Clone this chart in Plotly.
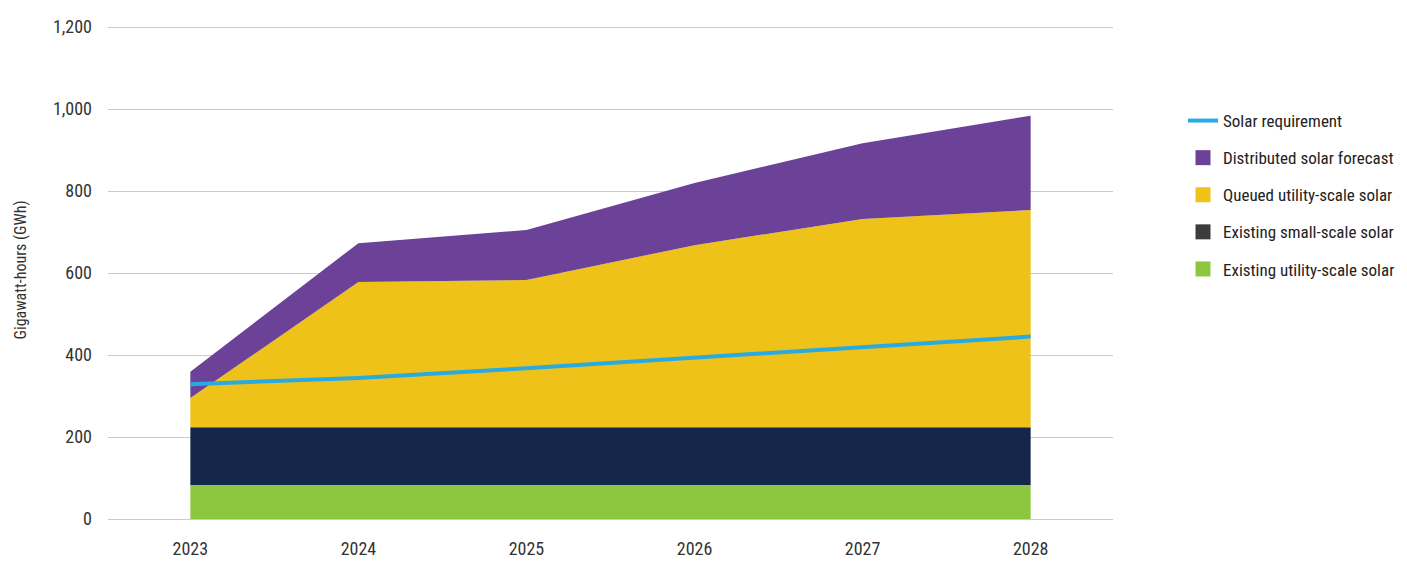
import plotly.graph_objects as go

years = ["2023", "2024", "2025", "2026", "2027", "2028"]
existing_utility = [83, 83, 83, 83, 83, 83]
existing_small = [141, 141, 141, 141, 141, 141]
queued_utility = [71, 354, 359, 444, 508, 530]
distributed = [64, 95, 122, 152, 185, 230]
solar_requirement = [329, 344, 368, 393, 419, 445]

x = list(range(len(years)))
FONT = "Roboto Condensed, Liberation Sans Narrow, sans-serif"

c_green = "#8DC63F"
c_navy = "#14274A"
c_yellow = "#EFC219"
c_purple = "#6C4298"
c_blue = "#29ABE2"
c_legend_dark = "#3C3C3C"

fig = go.Figure()

areas = [
    ("Existing utility-scale solar", existing_utility, c_green),
    ("Existing small-scale solar", existing_small, c_navy),
    ("Queued utility-scale solar", queued_utility, c_yellow),
    ("Distributed solar forecast", distributed, c_purple),
]
for name, vals, col in areas:
    fig.add_trace(go.Scatter(
        x=x, y=vals, name=name, stackgroup="s", mode="lines",
        line=dict(width=0, color=col), fillcolor=col, showlegend=False,
        hoverinfo="skip",
    ))

fig.add_trace(go.Scatter(
    x=x, y=solar_requirement, name="Solar requirement", mode="lines",
    line=dict(color=c_blue, width=4), showlegend=True, legendrank=1,
    legendgroup="g1",
))

legend_items = [
    ("Distributed solar forecast", c_purple, 2),
    ("Queued utility-scale solar", c_yellow, 3),
    ("Existing small-scale solar", c_legend_dark, 4),
    ("Existing utility-scale solar", c_green, 5),
]
for name, col, rank in legend_items:
    fig.add_trace(go.Scatter(
        x=[None], y=[None], name=name, mode="markers",
        marker=dict(symbol="square", size=15, color=col),
        showlegend=True, legendrank=rank, legendgroup="g%d" % rank,
    ))

W, H = 1399, 553
L, T, B = 100, 13, 42
R = W - 1105
plot_h = H - T - B

legend_left = 1175
legend_top = 95

fig.update_layout(
    width=W, height=H,
    margin=dict(l=L, r=R, t=T, b=B, autoexpand=False),
    paper_bgcolor="white", plot_bgcolor="white",
    font=dict(family=FONT, size=18, color="#333333"),
    showlegend=True,
    legend=dict(
        x=(legend_left - L) / (W - L - R), y=(H - B - legend_top) / plot_h,
        xanchor="left", yanchor="top",
        font=dict(family=FONT, size=17, color="#222222"),
        tracegroupgap=12, itemwidth=30, traceorder="grouped",
        bgcolor="rgba(0,0,0,0)",
    ),
    xaxis=dict(
        tickmode="array", tickvals=x, ticktext=years,
        range=[-0.49, 5.49], showgrid=False, zeroline=False,
        showline=False, ticks="", ticklabelstandoff=17, automargin=False,
        tickfont=dict(family=FONT, size=18, color="#333333"),
    ),
    yaxis=dict(
        range=[0, 1215], tickvals=[0, 200, 400, 600, 800, 1000, 1200],
        ticktext=["0", "200", "400", "600", "800", "1,000", "1,200"],
        showgrid=True, gridcolor="#CBC9D6", gridwidth=1,
        zeroline=True, zerolinecolor="#CBC9D6", zerolinewidth=1,
        showline=False, ticks="", ticklabelstandoff=15,
        title=dict(text="Gigawatt-hours (GWh)", standoff=22,
                   font=dict(family=FONT, size=16, color="#333333")),
        tickfont=dict(family=FONT, size=18, color="#333333"),
    ),
)

fig.write_html("out.html")
